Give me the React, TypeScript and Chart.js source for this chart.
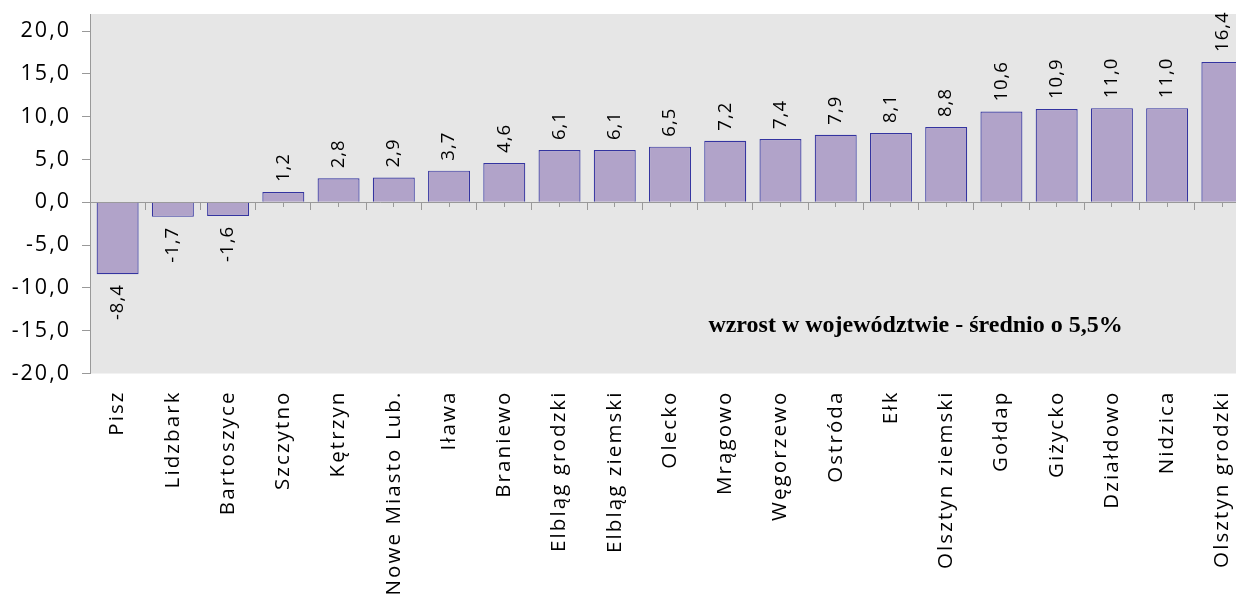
import React, { useEffect, useRef } from "react";
import { Chart, registerables } from "chart.js";

Chart.register(...registerables);

const categories = [
  "Pisz",
  "Lidzbark",
  "Bartoszyce",
  "Szczytno",
  "Kętrzyn",
  "Nowe Miasto Lub.",
  "Iława",
  "Braniewo",
  "Elbląg grodzki",
  "Elbląg ziemski",
  "Olecko",
  "Mrągowo",
  "Węgorzewo",
  "Ostróda",
  "Ełk",
  "Olsztyn ziemski",
  "Gołdap",
  "Giżycko",
  "Działdowo",
  "Nidzica",
  "Olsztyn grodzki",
];

const values = [
  -8.4, -1.7, -1.6, 1.2, 2.8, 2.9, 3.7, 4.6, 6.1, 6.1, 6.5, 7.2, 7.4, 7.9, 8.1,
  8.8, 10.6, 10.9, 11.0, 11.0, 16.4,
];

const yTicks = [-20, -15, -10, -5, 0, 5, 10, 15, 20];

const annotationText = "wzrost w województwie - średnio o 5,5%";

const FONT = "'Open Sans', 'Noto Sans', sans-serif";

const fmt = (v: number) => v.toFixed(1).replace(".", ",");

export default function App() {
  const ref = useRef<HTMLCanvasElement>(null);

  useEffect(() => {
    const canvas = ref.current!;
    const plugin = {
      id: "custom",
      beforeDraw(chart: any) {
        const { ctx, chartArea: a } = chart;
        ctx.save();
        ctx.fillStyle = "#e6e6e6";
        ctx.fillRect(a.left, a.top, a.right - a.left, a.bottom - a.top);
        ctx.restore();
        // spacing for the y-axis tick labels (drawn before datasets)
        ctx.letterSpacing = "2px";
      },
      beforeDatasetsDraw(chart: any) {
        chart.ctx.letterSpacing = "0px";
      },
      afterDatasetsDraw(chart: any) {
        const ctx = chart.ctx;
        const meta = chart.getDatasetMeta(0);
        ctx.save();
        ctx.letterSpacing = "1px";
        ctx.font = `500 18.5px ${FONT}`;
        ctx.fillStyle = "#000";
        meta.data.forEach((el: any, i: number) => {
          const v = values[i];
          ctx.save();
          ctx.translate(el.x, v >= 0 ? el.y - 10 : el.y + 10);
          ctx.rotate(-Math.PI / 2);
          ctx.textAlign = v >= 0 ? "left" : "right";
          ctx.textBaseline = "middle";
          ctx.fillText(fmt(v), 0, 0);
          ctx.restore();
        });
        ctx.restore();
        // spacing for the category labels (x ticks drawn after datasets, z: 1)
        ctx.letterSpacing = "2.1px";
      },
      afterDraw(chart: any) {
        const ctx = chart.ctx;
        const x = chart.scales.x;
        const y = chart.scales.y;
        ctx.letterSpacing = "0px";
        ctx.save();
        ctx.font = 'bold 24px "Liberation Serif"';
        ctx.fillStyle = "#000";
        ctx.textAlign = "center";
        ctx.textBaseline = "alphabetic";
        ctx.fillText(
          annotationText,
          (x.getPixelForValue(14) + x.getPixelForValue(15)) / 2 - 3,
          y.getPixelForValue(-15.2)
        );
        ctx.restore();
        ctx.letterSpacing = "0px";
      },
    };

    const zeroPad = (s: any) => {
      s.paddingTop = 0;
      s.paddingBottom = 0;
      s.paddingLeft = 0;
      s.paddingRight = 0;
    };

    const chart = new Chart(canvas, {
      type: "bar",
      data: {
        labels: categories,
        datasets: [
          {
            data: values,
            backgroundColor: "#b1a3c9",
            borderColor: "#3434a0",
            borderWidth: 1.2,
            categoryPercentage: 0.76,
            barPercentage: 1,
          },
        ],
      },
      options: {
        animation: false,
        responsive: false,
        devicePixelRatio: 1,
        layout: { padding: { top: 14, right: 10, left: 0, bottom: 0 } },
        plugins: { legend: { display: false }, tooltip: { enabled: false } },
        scales: {
          x: {
            type: "category",
            position: "bottom",
            offset: true,
            grid: { display: false, drawTicks: false },
            border: { display: false },
            ticks: {
              autoSkip: false,
              minRotation: 90,
              maxRotation: 90,
              padding: 17,
              z: 1,
              color: "#000",
              font: { family: FONT, size: 20.5, weight: 500 },
            },
            afterFit: (s: any) => {
              s.height = 230.5;
              zeroPad(s);
            },
          },
          x2: {
            type: "category",
            position: { y: 0 },
            offset: true,
            grid: {
              display: true,
              offset: true,
              drawOnChartArea: false,
              drawTicks: true,
              tickLength: 7,
              color: "#999",
            },
            border: { display: true, color: "#999", width: 1 },
            ticks: { display: false },
            afterFit: (s: any) => {
              s.height = 0;
              zeroPad(s);
            },
          },
          x3: {
            type: "category",
            position: { y: 0 },
            offset: true,
            grid: {
              display: true,
              offset: false,
              drawOnChartArea: false,
              drawTicks: true,
              tickLength: 5,
              color: "#999",
            },
            border: { display: false },
            ticks: { display: false },
            afterFit: (s: any) => {
              s.height = 0;
              zeroPad(s);
            },
          },
          y: {
            min: -20,
            max: 22,
            afterBuildTicks: (s: any) => {
              s.ticks = yTicks.map((v) => ({ value: v }));
            },
            ticks: {
              callback: (v: any) => fmt(Number(v)),
              color: "#000",
              font: { family: FONT, size: 21.5, weight: 500 },
              padding: 11,
            },
            grid: {
              drawOnChartArea: false,
              drawTicks: true,
              tickLength: 8,
              color: "#999",
            },
            border: { display: true, color: "#999" },
            afterFit: (s: any) => {
              s.width = 90;
              zeroPad(s);
            },
          },
        },
      } as any,
      plugins: [plugin],
    });
    return () => chart.destroy();
  }, []);

  return (
    <div
      style={{
        position: "fixed",
        left: 0,
        top: 0,
        width: 1236,
        height: 604,
        overflow: "hidden",
        background: "#fff",
      }}
    >
      <canvas
        ref={ref}
        width={1260}
        height={604}
        style={{ display: "block", width: 1260, height: 604 }}
      />
    </div>
  );
}
